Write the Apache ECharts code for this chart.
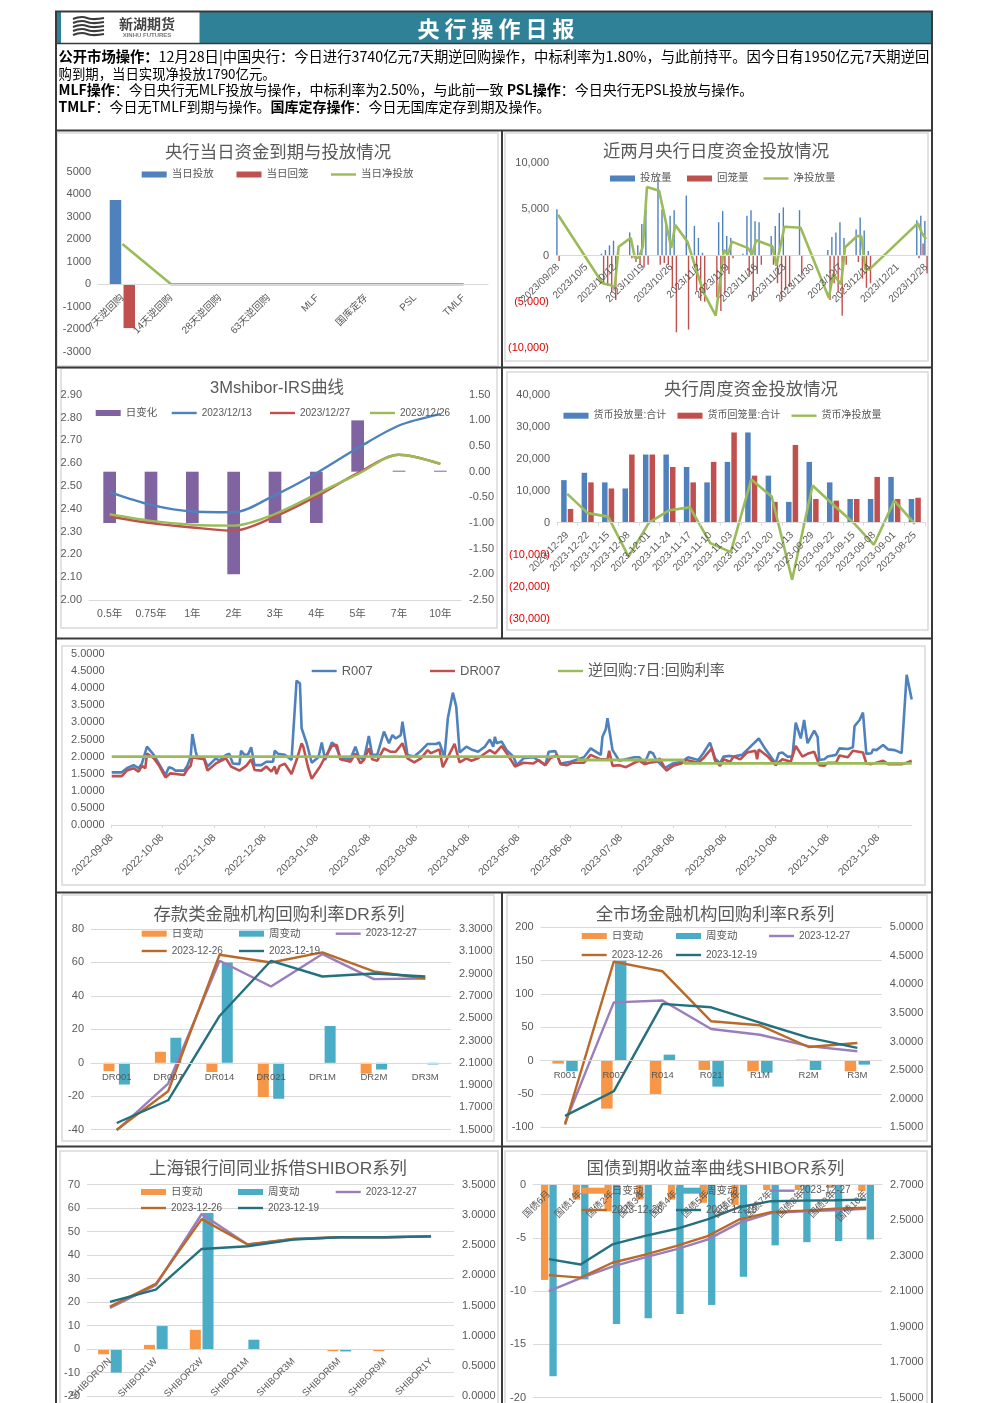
<!DOCTYPE html>
<html><head><meta charset="utf-8"><style>html,body{margin:0;padding:0;background:#fff}#c{width:992px;height:1403px}</style>
<script src="https://cdn.jsdelivr.net/npm/echarts@6/dist/echarts.min.js"></script></head><body><div id="c"></div>
<script>
// ---------- data ----------
const todayCats=['7天逆回购','14天逆回购','28天逆回购','63天逆回购','MLF','国库定存','PSL','TMLF'];
const todayPut=[3740,0,0,0,0,0,0,0];
const todayBack=[-1950,0,0,0,0,0,0,0];
const todayNet=[1790,0,0,0,0,0,0,0];

const dailyPutDays=[0,11,12,13,14,18,20,21,22,25,26,27,28,29,32,34,35,36,40,41,42,43,46,47,48,49,50,53,54,55,56,60,67,68,69,70,71,74,75,76,77,89,90,91];
const dailyPut=[5000,200,600,1100,1600,2500,1100,3400,5000,8200,5000,3700,4300,4900,6500,3200,1900,300,3600,4800,2100,1900,200,4300,4900,3700,3600,2100,3200,4600,5200,4900,600,2000,2500,3600,1900,2800,4100,2700,500,3800,4300,3740];
const dailyBackDays=[0,11,12,13,14,18,19,20,21,22,25,26,27,28,29,32,34,35,36,39,40,41,42,43,47,48,49,50,53,54,55,56,57,60,67,68,69,70,71,74,75,76,77,89,90,91];
const dailyBack=[-600,-3100,-3300,-4000,-4800,-300,-700,-1000,-1300,-1000,-1000,-800,-1000,-3500,-8300,-8000,-3800,-4900,-5000,-4500,-6000,-4100,-2000,-300,-2300,-4800,-2000,-1000,-1000,-3000,-4700,-3700,-3400,-2200,-4800,-3000,-4000,-6500,-1000,-700,-2500,-3500,-3000,-300,1300,-1950];
const dailyNetDays=[0,11,12,13,14,15,18,19,20,21,22,25,26,28,29,32,34,36,39,41,42,43,47,48,49,53,54,56,60,67,68,70,71,74,75,76,77,89,90,91];
const dailyNet=[4400,-3000,-3100,-3200,-3500,950,1900,-250,-250,1000,7400,7000,5000,800,3300,1500,-1300,-4000,-6500,600,100,1500,800,100,1650,1000,-1100,3100,3000,-4600,-2000,-3100,900,2100,2100,-1500,-1500,3500,2400,1790];

const irsCats=['0.5年','0.75年','1年','2年','3年','4年','5年','7年','10年'];
const irsChange=[-1,-1,-1,-2,-1,-1,1,0,0];
const irs1213=[2.473,2.417,2.388,2.385,2.46,2.556,2.666,2.765,2.815];
const irs1227=[2.366,2.337,2.318,2.304,2.366,2.454,2.556,2.637,2.597];
const irs1226=[2.376,2.347,2.33,2.326,2.377,2.464,2.552,2.637,2.597];

const weekCats=['2023-12-29','2023-12-22','2023-12-15','2023-12-08','2023-12-01','2023-11-24','2023-11-17','2023-11-10','2023-11-03','2023-10-27','2023-10-20','2023-10-13','2023-09-29','2023-09-22','2023-09-15','2023-09-08','2023-09-01','2023-08-25'];
const weekPut=[13300,15600,12600,10700,21300,21300,17400,12600,19000,28200,14700,6500,19000,12600,7400,7400,14300,7400];
const weekBack=[4300,12600,10700,21300,21300,17400,12600,19000,28200,14700,6500,24300,7400,6900,7400,14300,7400,7800];
const weekNet=[9000,3000,1900,-10600,0,3900,4800,-6400,-9200,13500,8200,-17800,11600,5700,0,-6900,6900,-400];

const r007Days=[0,6,9,13,16,18,21,25,28,32,34,36,38,43,45,47,48,50,51,55,57,62,64,68,70,72,76,77,79,81,83,85,89,92,96,97,99,103,107,110,112,113,116,119,123,125,127,131,133,136,142,145,147,150,153,155,158,162,165,167,169,172,173,176,180,184,188,193,195,198,200,203,205,207,211,214,218,222,225,227,228,229,232,235,239,241,245,251,258,260,264,267,273,281,285,291,292,294,295,298,302,311,314,317,320,322,324,329,334,339,343,349,352,356,359,362,364,368,370,375,379,385,388,395,397,399,402,405,407,410,412,414,418,420,421,424,426,431,433,438,441,442,445,447,449,452,453,455,459,462,466,470,473,474,476];
const r007=[1.54,1.54,1.66,1.75,1.66,1.80,2.29,2.05,1.80,1.46,1.69,1.66,1.59,1.59,1.73,2.00,2.66,2.14,1.98,1.95,1.71,1.95,1.88,2.05,2.08,1.80,1.78,2.17,2.05,2.05,2.27,1.75,1.75,1.85,1.85,2.17,2.08,2.05,1.90,4.22,4.14,2.83,2.39,1.82,1.98,2.41,1.90,2.41,2.34,1.98,1.92,2.29,2.00,1.90,2.60,2.05,2.05,2.73,2.39,2.63,2.53,2.63,3.02,2.05,2.00,2.17,2.37,2.37,2.41,1.98,3.12,3.87,3.46,2.12,2.29,2.21,2.14,2.29,2.50,2.29,2.58,2.39,2.44,2.19,2.00,1.75,1.95,1.98,1.75,2.14,2.16,1.80,1.85,1.98,2.24,2.05,2.58,2.80,3.12,2.19,1.88,1.98,1.98,1.80,2.14,2.10,1.90,1.66,1.80,1.85,1.98,1.90,2.10,2.41,1.95,1.80,2.00,2.02,2.00,2.05,2.24,2.53,2.29,1.80,2.10,2.12,2.00,2.00,2.99,2.53,3.07,2.39,2.76,2.58,1.90,1.92,2.00,2.05,2.24,2.22,2.27,2.89,3.07,3.29,2.08,2.10,2.21,2.19,2.34,2.21,2.19,2.10,4.39,4.39,3.67];
const dr007Days=[0,6,9,13,16,18,20,21,25,28,32,35,43,45,47,48,51,55,57,62,63,68,71,76,80,83,85,89,92,95,97,98,100,103,107,110,113,114,117,119,124,126,127,131,134,136,142,145,148,150,153,155,158,162,166,169,173,176,180,184,188,190,195,197,200,204,207,211,214,218,222,225,228,232,235,240,245,251,254,258,261,265,267,271,274,281,285,291,295,296,298,302,306,311,314,317,320,324,326,330,334,339,342,349,352,357,359,362,364,368,370,374,378,383,384,385,390,395,399,404,407,411,414,418,421,424,426,431,433,438,441,447,449,452,459,462,466,470,473,476];
const dr007=[1.43,1.43,1.59,1.66,1.56,1.73,1.66,2.09,1.95,1.75,1.39,1.51,1.46,1.63,1.73,1.98,1.95,1.92,1.59,1.80,1.85,1.95,1.71,1.59,1.73,1.92,1.61,1.59,1.71,1.56,1.71,1.49,1.73,1.79,1.49,1.90,2.39,2.29,1.66,1.35,1.71,1.90,1.85,2.31,2.34,1.92,1.85,2.09,1.80,1.90,2.24,1.92,1.88,2.24,2.14,2.14,2.39,1.95,1.83,1.95,2.19,2.10,2.21,1.69,1.98,2.37,1.83,1.95,1.88,1.95,2.09,2.19,2.09,2.31,2.10,1.71,1.82,1.80,1.90,1.75,1.95,2.05,1.78,1.75,1.82,1.82,2.05,1.92,1.92,2.17,1.73,1.75,1.69,1.82,1.88,1.78,1.82,1.85,1.95,1.59,1.73,1.80,1.90,1.82,1.95,2.24,1.88,1.73,1.92,1.85,2.00,1.92,2.12,2.17,1.92,2.21,2.02,1.75,1.92,1.85,2.31,2.00,2.08,2.14,1.75,1.73,1.82,1.82,2.03,1.98,2.17,2.12,1.80,1.78,1.88,1.78,1.78,1.78,1.82,1.88];
const repoDays=[0,277,278,340,341,476];
const repo7d=[2.0,2.0,1.9,1.9,1.8,1.8];

const drCats=['DR001','DR007','DR014','DR021','DR1M','DR2M','DR3M'];
const drDay=[-5,6.6,-5.5,-20.5,0,-6.5,0];
const drWeek=[-13,15,60,-21.5,22,-4,-1];
const dr1227=[1.494,1.914,3.015,2.784,3.075,2.85,2.856];
const dr1226=[1.50,1.845,3.069,3.0,3.09,2.919,2.856];
const dr1219=[1.56,1.764,2.52,3.015,2.874,2.901,2.874];

const rCats=['R001','R007','R014','R021','R1M','R2M','R3M'];
const rDay=[-4.5,-72,-50,-14,-16,1.5,-16];
const rWeek=[-16,150,9,-39,-18,-14,-6];
const r1227=[1.575,3.687,3.72,3.22,3.12,2.92,2.83];
const r1226=[1.546,4.40,4.23,3.355,3.285,2.905,2.975];
const r1219=[1.70,2.13,3.66,3.60,3.33,3.07,2.89];

const shCats=['SHIBORO/N','SHIBOR1W','SHIBOR2W','SHIBOR1M','SHIBOR3M','SHIBOR6M','SHIBOR9M','SHIBOR1Y'];
const shDay=[-2.2,1.8,8.2,-0.3,-0.2,-0.9,-0.9,-0.3];
const shWeek=[-10,9.8,58,4,-0.4,-1,0,-0.3];
const sh1227=[1.46,1.835,3.015,2.51,2.60,2.63,2.63,2.645];
const sh1226=[1.48,1.857,2.93,2.51,2.60,2.63,2.63,2.645];
const sh1219=[1.56,1.764,2.436,2.48,2.59,2.63,2.63,2.645];

const cgbCats=['国债6月','国债1年','国债2年','国债3年','国债4年','国债5年','国债6年','国债7年','国债8年','国债9年','国债10年'];
const cgbDay=[-8.95,-1.4,-2.5,-1.4,-1.4,-1.7,-1.9,-0.5,-0.5,-0.3,-0.6];
const cgbWeek=[-18,-8.9,-13.1,-12.55,-12.15,-11.3,-8.65,-5.7,-5.4,-5.3,-5.15];
const cgb1227=[2.10,2.173,2.238,2.289,2.335,2.39,2.485,2.54,2.55,2.556,2.564];
const cgb1226=[2.19,2.176,2.26,2.304,2.354,2.41,2.504,2.545,2.554,2.564,2.57];
const cgb1219=[2.28,2.25,2.363,2.41,2.45,2.504,2.573,2.607,2.61,2.612,2.616];

// ---------- helpers ----------
const GRAY='#595959',AXIS='#d9d9d9',BLUE='#4F81BD',RED='#C0504D',GREEN='#9BBB59',PURPLE='#8064A2',
      ORANGE='#F79646',TEAL='#4BACC6',LPURPLE='#9A7DBC',BROWN='#B96A2A',DTEAL='#23707F',HEAD='#2F8197';
const FONT='"Liberation Sans","Noto Sans CJK SC",sans-serif';
const grid=[],xAxis=[],yAxis=[],series=[],legend=[],title=[];
function addDays(n,start,fmt){const a=[];for(let i=0;i<n;i++){const d=new Date(Date.UTC(start[0],start[1]-1,start[2]+i));a.push(fmt(d.getUTCFullYear(),String(d.getUTCMonth()+1).padStart(2,'0'),d.getUTCDate()));}return a;}
function sparse(n,days,vals){const a=new Array(n).fill(null);days.forEach((d,i)=>a[d]=vals[i]);return a;}
const thousands=v=>{const s=Math.abs(v).toString().replace(/\B(?=(\d{3})+$)/g,',');return v<0?'('+s+')':s;};
const fx=n=>v=>Number(v).toFixed(n);

function panel(p){ // p: l,t,r,b pixel box of the plot
  const g=grid.length;
  grid.push({left:p.l,top:p.t,width:p.r-p.l,height:p.b-p.t});
  const xl=Object.assign({color:GRAY,fontSize:10,interval:0,margin:8},p.xl||{});
  // the axis sits on the value-axis zero; pull the labels up to it
  if(p.onZero!==false&&p.y[0]<0)xl.margin-=(p.b-p.t)*(0-p.y[0])/(p.y[1]-p.y[0]);
  xAxis.push({type:'category',gridIndex:g,z:5,data:p.cats,boundaryGap:p.gap!==false,
    axisLine:{show:true,onZero:p.onZero!==false,lineStyle:{color:AXIS,width:1}},
    axisTick:p.tick||{show:false},
    axisLabel:xl});
  const yi=yAxis.length;
  xAxis[g].axisLine.onZeroAxisIndex=yi;
  yAxis.push(Object.assign({type:'value',gridIndex:g,position:'left',min:p.y[0],max:p.y[1],interval:p.y[2],
    axisLine:{show:false},axisTick:{show:false},
    splitLine:{show:!!p.split,lineStyle:{color:AXIS,width:1}},
    axisLabel:{color:p.yc||GRAY,fontSize:11,margin:7,formatter:p.yf||(v=>v)}}));
  let yr=null;
  if(p.y2){yr=yAxis.length;
    const al={color:GRAY,fontSize:11,margin:8,formatter:p.y2f};
    if(p.y2v)al.customValues=p.y2v;
    const ya={type:'value',gridIndex:g,position:'right',min:p.y2[0],max:p.y2[1],
      axisLine:{show:false},axisTick:{show:false},splitLine:{show:false},axisLabel:al};
    if(p.y2[2])ya.interval=p.y2[2];
    yAxis.push(ya);}
  return {g,yi,yr};
}
function bar(ax,name,data,color,width,gap,right,extra){series.push(Object.assign({type:'bar',name,data,xAxisIndex:ax.g,yAxisIndex:right?ax.yr:ax.yi,barWidth:width,barGap:gap,itemStyle:{color},animation:false},extra||{}));}
function line(ax,name,data,color,lw,right,extra){series.push(Object.assign({type:'line',name,data,xAxisIndex:ax.g,yAxisIndex:right?ax.yr:ax.yi,symbol:'none',showSymbol:false,connectNulls:true,lineStyle:{color,width:lw},itemStyle:{color},animation:false},extra||{}));}
function leg(name,x,cy,size,isBar){legend.push({left:x,top:cy-8,padding:0,z:6,data:[name],itemWidth:25,itemHeight:isBar?6:2.4,itemGap:0,icon:'rect',selectedMode:false,textStyle:{color:GRAY,fontSize:size||10.5,lineHeight:16}});}
function ttl(text,x,y,size){title.push({text,left:x,top:y,textAlign:'center',textVerticalAlign:'middle',padding:0,textStyle:{color:GRAY,fontSize:size||17.4,fontWeight:'normal',fontFamily:FONT}});}

// --- chart 1
ttl('央行当日资金到期与投放情况',278,153);
let a=panel({l:98,t:171.7,r:488,b:351.7,cats:todayCats,y:[-3000,5000,1000],xl:{rotate:45,margin:12,fontSize:10}});
bar(a,'当日投放',todayPut,BLUE,11.5,'20%');bar(a,'当日回笼',todayBack,RED,11.5,'20%');line(a,'当日净投放',todayNet,GREEN,2.6);
leg('当日投放',141.7,174.5,10.5,true);leg('当日回笼',236.5,174.5,10.5,true);leg('当日净投放',331,174.5,10.5);

// --- chart 2
const dailyDates=addDays(92,[2023,9,28],(y,m,d)=>y+'/'+m+'/'+d);
ttl('近两月央行日度资金投放情况',716,152);
a=panel({l:556,t:163,r:928,b:348,cats:dailyDates,y:[-10000,10000,5000],yf:thousands,yc:v=>Number(v)<0?'#e00000':GRAY,
  xl:{rotate:45,margin:10,fontSize:10,interval:6}});
bar(a,'投放量',sparse(92,dailyPutDays,dailyPut),BLUE,1.4,'60%');
bar(a,'回笼量',sparse(92,dailyBackDays,dailyBack),RED,1.4,'60%');
line(a,'净投放量',sparse(92,dailyNetDays,dailyNet),GREEN,2.6);
leg('投放量',610,178.5,10.5,true);leg('回笼量',687,178.5,10.5,true);leg('净投放量',763.5,178.5,10.5);

// --- chart 3
ttl('3Mshibor-IRS曲线',277,388.5,16.5);
a=panel({l:89,t:394.7,r:461,b:600,cats:irsCats,onZero:false,y:[2,2.9,0.1],yf:fx(2),y2:[-2.5,1.5,0.5],y2f:fx(2),xl:{margin:9,fontSize:10.5}});
bar(a,'日变化',irsChange,PURPLE,12.7,'0%',true,{barMinHeight:1});
line(a,'2023/12/13',irs1213,BLUE,2.4,false,{smooth:0.3});
line(a,'2023/12/27',irs1227,RED,2.4,false,{smooth:0.3});
line(a,'2023/12/26',irs1226,GREEN,2.4,false,{smooth:0.3});
leg('日变化',95.7,413,10.5,true);leg('2023/12/13',171.7,413,10);leg('2023/12/27',270,413,10);leg('2023/12/26',370,413,10);

// --- chart 4
ttl('央行周度资金投放情况',751,390.5);
a=panel({l:557,t:394.7,r:925,b:618.7,cats:weekCats,y:[-30000,40000,10000],yf:thousands,yc:v=>Number(v)<0?'#e00000':GRAY,
  xl:{rotate:45,margin:11,fontSize:10},tick:{show:true,length:3,lineStyle:{color:AXIS}}});
bar(a,'货币投放量:合计',weekPut,BLUE,5.5,'20%');bar(a,'货币回笼量:合计',weekBack,RED,5.5,'20%');line(a,'货币净投放量',weekNet,GREEN,2.6);
leg('货币投放量:合计',563.5,415.7,10,true);leg('货币回笼量:合计',677.5,415.7,10,true);leg('货币净投放量',791.5,415.7,10);

// --- chart 5
const repoDates=addDays(477,[2022,9,8],(y,m,d)=>y+'-'+m+'-'+String(d).padStart(2,'0'));
const on8=(i,v)=>v.endsWith('-08');
a=panel({l:111.7,t:654,r:911.7,b:825,cats:repoDates,gap:false,y:[0,5,0.5],yf:fx(4),
  xl:{rotate:45,margin:11,fontSize:10.5,interval:on8},tick:{show:true,length:3,interval:on8,lineStyle:{color:AXIS}}});
line(a,'R007',sparse(477,r007Days,r007),BLUE,2.6);
line(a,'DR007',sparse(477,dr007Days,dr007),RED,2.6);
line(a,'逆回购:7日:回购利率',sparse(477,repoDays,repo7d),GREEN,2.8);
leg('R007',311.7,671,13);leg('DR007',430,671,13);leg('逆回购:7日:回购利率',558,671,15);

// --- shared layout for the four bar+line panels
function fourSeries(ax,w,gap,day,week,l27,l26,l19){
  bar(ax,'日变动',day,ORANGE,w,gap);bar(ax,'周变动',week,TEAL,w,gap);
  line(ax,'2023-12-27',l27,LPURPLE,2.4,true);line(ax,'2023-12-26',l26,BROWN,2.4,true);line(ax,'2023-12-19',l19,DTEAL,2.4,true);
}
function fourLegend(x1,x2,x3,y1,y2){
  leg('日变动',x1,y1,10.5,true);leg('周变动',x2,y1,10.5,true);leg('2023-12-27',x3,y1,10);
  leg('2023-12-26',x1,y2,10);leg('2023-12-19',x2,y2,10);
}
// --- chart 6
ttl('存款类金融机构回购利率DR系列',279,915.5);
a=panel({l:91,t:929,r:451,b:1129.7,cats:drCats,split:true,y:[-40,80,20],y2:[1.5,3.3],y2f:fx(4),y2v:[1.5,1.7,1.9,2.1,2.3,2.5,2.7,2.9,3.1,3.3],xl:{margin:10,fontSize:9.5}});
fourSeries(a,11,'40%',drDay,drWeek,dr1227,dr1226,dr1219);
fourLegend(141.7,239,335.7,933.7,951);
// --- chart 7
ttl('全市场金融机构回购利率R系列',715,915.5);
a=panel({l:540.7,t:927.3,r:881.7,b:1127.3,cats:rCats,split:true,y:[-100,200,50],y2:[1.5,5,0.5],y2f:fx(4),xl:{margin:10,fontSize:9.5}});
fourSeries(a,11.5,'20%',rDay,rWeek,r1227,r1226,r1219);
fourLegend(581.7,676,769,936,955);
// --- chart 8
ttl('上海银行间同业拆借SHIBOR系列',278,1169.5);
a=panel({l:87,t:1184.7,r:454,b:1397.3,cats:shCats,split:true,y:[-20,70,10],y2:[0,3.5,0.5],y2f:fx(4),xl:{rotate:45,margin:11,fontSize:9.5}});
fourSeries(a,11,'15%',shDay,shWeek,sh1227,sh1226,sh1219);
fourLegend(141,238,335.7,1192,1208);
// --- chart 9
ttl('国债到期收益率曲线SHIBOR系列',715.5,1169.5);
a=panel({l:533,t:1184.7,r:882,b:1398.7,cats:cgbCats,split:true,y:[-20,0,5],y2:[1.5,2.7],y2f:fx(4),y2v:[1.5,1.7,1.9,2.1,2.3,2.5,2.7],xl:{rotate:45,margin:9,fontSize:9.5}});
fourSeries(a,7.3,'15%',cgbDay,cgbWeek,cgb1227,cgb1226,cgb1219);
fourLegend(581.7,676,769.5,1190.7,1210);

// ---------- frames, header, notes ----------
const FR='#3a3a3a';
const hline=(y,x1,x2,w,c)=>({type:'line',silent:true,shape:{x1,y1:y,x2,y2:y},style:{stroke:c||FR,lineWidth:w||2}});
const vline=(x,y1,y2,w,c)=>({type:'line',silent:true,shape:{x1:x,y1,x2:x,y2},style:{stroke:c||FR,lineWidth:w||2}});
const box=(x,y,w,h)=>({type:'rect',silent:true,shape:{x,y,width:w,height:h},style:{fill:'#fff',stroke:AXIS,lineWidth:1.5}});
const note=(y,text,sz)=>({type:'text',silent:true,x:58.5,y,style:{text,verticalAlign:'middle',fill:'#000',font:sz+'px '+FONT,rich:{b:{fontWeight:'bold',fontSize:sz,fill:'#000',fontFamily:'"Noto Sans CJK SC"'},r:{fontSize:sz,fill:'#000',fontFamily:'"Noto Sans CJK SC"'}}}});
const wave=(y)=>({type:'polyline',silent:true,shape:{points:[[73,y+1],[82,y-1],[92,y+1],[104,y]],smooth:0.5},style:{stroke:'#3b3b3b',fill:null,lineWidth:2.2}});
const graphic=[
  {type:'rect',silent:true,shape:{x:56,y:12,width:876,height:31},style:{fill:HEAD}},
  {type:'rect',silent:true,shape:{x:61,y:12,width:138.5,height:31},style:{fill:'#fff'}},
  wave(18),wave(22),wave(26),wave(30),wave(34),
  {type:'text',silent:true,x:147,y:24,style:{text:'新湖期货',align:'center',verticalAlign:'middle',fill:'#444',font:'bold 14px "Noto Sans CJK SC"'}},
  {type:'text',silent:true,x:147,y:35.5,style:{text:'XINHU FUTURES',align:'center',verticalAlign:'middle',fill:'#777',font:'bold 6px "Liberation Sans"'}},
  {type:'text',silent:true,x:496,y:29,style:{text:'央 行 操 作 日 报',align:'center',verticalAlign:'middle',fill:'#fff',font:'bold 22px "Noto Sans CJK SC"'}},
  note(57,'{b|公开市场操作：}{r|12月28日|中国央行：今日进行3740亿元7天期逆回购操作，中标利率为1.80%，与此前持平。因今日有1950亿元7天期逆回}',14.3),
  note(74,'{r|购到期，当日实现净投放1790亿元。}',13.4),
  note(90,'{b|MLF操作}{r|：今日央行无MLF投放与操作，中标利率为2.50%，与此前一致 }{b|PSL操作}{r|：今日央行无PSL投放与操作。}',14),
  note(106.5,'{b|TMLF}{r|：今日无TMLF到期与操作。}{b|国库定存操作}{r|：今日无国库定存到期及操作。}',14),
  box(57,133,441,233),box(505,133,423,228),box(61,368,436,260),box(507,372,421,258),box(62,646,863,239),
  box(62,895,432,246),box(507,895,420,246),box(60,1151,438,260),box(505,1151,422,260),
  hline(11.5,55,933),hline(43.5,55,933,1.5),hline(130.5,55,933),hline(367.5,55,933),hline(638.5,55,933),hline(892.5,55,933),hline(1146.5,55,933),
  vline(56,11,1403),vline(932,11,1403),vline(502,130,638),vline(502,892,1403)
];
const chart=echarts.init(document.getElementById('c'),null,{renderer:'canvas'});
chart.setOption({animation:false,backgroundColor:'#fff',textStyle:{fontFamily:FONT},tooltip:{show:false},
  graphic:{elements:graphic},title,grid,xAxis,yAxis,legend,series});
</script></body></html>
